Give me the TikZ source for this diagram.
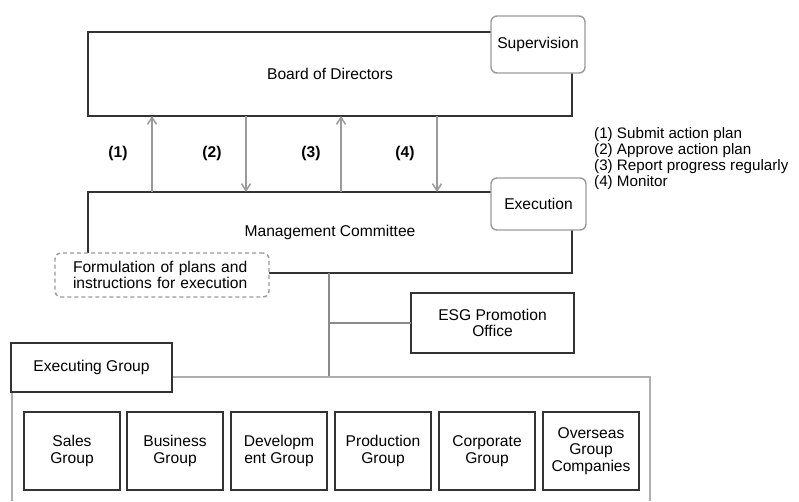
\documentclass[tikz,border=0pt]{standalone}
\usepackage{fontspec}
\setmainfont{Liberation Sans}
\usetikzlibrary{arrows.meta}

\definecolor{boxline}{HTML}{333333}
\definecolor{softline}{HTML}{9A9A9A}
\definecolor{linkline}{HTML}{8A8A8A}

\tikzset{
  body/.style={draw=boxline, line width=2pt, fill=white, inner sep=0pt, outer sep=0pt},
  role/.style={draw=softline, line width=1.4pt, fill=white, rounded corners=6pt, inner sep=0pt, outer sep=0pt},
  planbox/.style={draw=softline, line width=1.4pt, dash pattern=on 4pt off 3pt, fill=white, rounded corners=6pt, inner sep=0pt, outer sep=0pt, align=left},
  unitbox/.style={draw=boxline, line width=2.6pt, fill=white, inner sep=0pt, outer sep=0pt,
                  minimum width=96pt, minimum height=78pt, align=center},
  uparrow/.style={draw=softline, line width=1.5pt, -{Straight Barb[length=7pt,width=9pt]}},
  downarrow/.style={draw=softline, line width=1.5pt, -{Straight Barb[length=7pt,width=9pt]}},
  link/.style={draw=linkline, line width=1.5pt},
  frame/.style={draw=softline!80, line width=1.4pt},
  steplabel/.style={font=\fontsize{15.6}{16.5}\selectfont\bfseries, inner sep=0pt},
}

\begin{document}
\begin{tikzpicture}[x=1pt, y=-1pt, font=\fontsize{15.6}{16.5}\selectfont]
\useasboundingbox (0,0) rectangle (799,501);

% Board of Directors with its supervision tag
\node[body, minimum width=484pt, minimum height=84pt] (board) at (330,74) {Board of Directors};
\node[role, minimum width=94pt, minimum height=57pt] (superv) at (538,44.5) {Supervision};

% Management Committee with its execution tag and planning note
\node[body, minimum width=484pt, minimum height=81pt] (mgmt) at (330,232.5) {Management Committee};
\node[role, minimum width=95pt, minimum height=52pt] (exec) at (538.5,204) {Execution};
\node[planbox, minimum width=214pt, minimum height=44pt, text width=178pt] (plan) at (162,275)
  {Formulation of plans and\\instructions for execution};

% Reporting arrows between the two bodies
\draw[uparrow]   ([xshift=64pt]mgmt.north west)  -- ([xshift=64pt]board.south west);
\draw[downarrow] ([xshift=158pt]board.south west) -- ([xshift=158pt]mgmt.north west);
\draw[uparrow]   ([xshift=253pt]mgmt.north west) -- ([xshift=253pt]board.south west);
\draw[downarrow] ([xshift=349pt]board.south west) -- ([xshift=349pt]mgmt.north west);

\node[steplabel] (s1) at (118,153) {(1)};
\node[steplabel] (s2) at (212,153) {(2)};
\node[steplabel] (s3) at (311,153) {(3)};
\node[steplabel] (s4) at (405,153) {(4)};

% Legend
\node[anchor=west, align=left, inner sep=0pt, font=\fontsize{15.2}{16}\selectfont] (legend) at (594,159)
  {(1) Submit action plan\\(2) Approve action plan\\(3) Report progress regularly\\(4) Monitor};

% ESG office and trunk line
\coordinate (hub) at (329,377);
\coordinate (frameend) at (650,501);
\node[body, line width=2.4pt, minimum width=163pt, minimum height=60pt, align=center] (esg) at (492.5,323)
  {ESG Promotion\\Office};
\draw[link] (mgmt.south -| hub) -- (hub);
\draw[link] (esg.west) -- (esg.west -| hub);

% Executing group frame
\node[body, line width=2.4pt, minimum width=161pt, minimum height=49pt] (execgrp) at (91.5,367.5) {};
\draw[frame] ([yshift=-9.5pt]execgrp.east) -| (frameend);
\draw[frame] ([xshift=1pt]execgrp.south west) -- ([xshift=1pt]execgrp.south west |- frameend);
\node[body, line width=2.4pt, minimum width=161pt, minimum height=49pt] (execgrpbox) at (91.5,367.5) {Executing Group};

% Group units
\node[unitbox] (sales) at (72,451)  {Sales\\Group};
\node[unitbox] (biz)   at (175,451) {Business\\Group};
\node[unitbox] (dev)   at (279,451) {Developm\\ent Group};
\node[unitbox] (prod)  at (383,451) {Production\\Group};
\node[unitbox] (corp)  at (487,451) {Corporate\\Group};
\node[unitbox] (over)  at (591,451) {Overseas\\Group\\Companies};
\end{tikzpicture}
\end{document}
